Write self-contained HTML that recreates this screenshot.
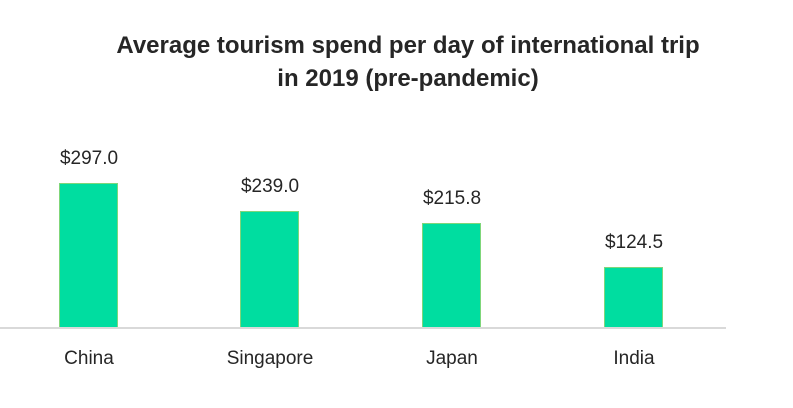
<!DOCTYPE html>
<html><head><style>
body{margin:0;width:793px;height:408px;background:#fff;font-family:"Liberation Sans",sans-serif;position:relative;overflow:hidden}
.t{position:absolute;left:0;width:816px;text-align:center;font-weight:bold;font-size:24px;color:#262626;line-height:33px}
.b{position:absolute;width:57px;background:#00DDA0;border:1px solid #7fd67a;border-bottom:none}
.v,.c{position:absolute;width:140px;text-align:center;font-size:19px;color:#262626}
.ax{position:absolute;left:0;top:327px;width:726px;height:2px;background:#d9d9d9}
</style></head><body>
<div class="t" style="top:29px">Average tourism spend per day of international trip</div>
<div class="t" style="top:62px">in 2019 (pre-pandemic)</div>
<div class="b" style="left:59px;top:183px;height:144px"></div>
<div class="b" style="left:240px;top:211px;height:116px"></div>
<div class="b" style="left:422px;top:223px;height:104px"></div>
<div class="b" style="left:604px;top:267px;height:60px"></div>
<div class="ax"></div>
<div class="v" style="left:19px;top:148px">$297.0</div>
<div class="v" style="left:200px;top:176px">$239.0</div>
<div class="v" style="left:382px;top:188px">$215.8</div>
<div class="v" style="left:564px;top:232px">$124.5</div>
<div class="c" style="left:19px;top:348px">China</div>
<div class="c" style="left:200px;top:348px">Singapore</div>
<div class="c" style="left:382px;top:348px">Japan</div>
<div class="c" style="left:564px;top:348px">India</div>
</body></html>
